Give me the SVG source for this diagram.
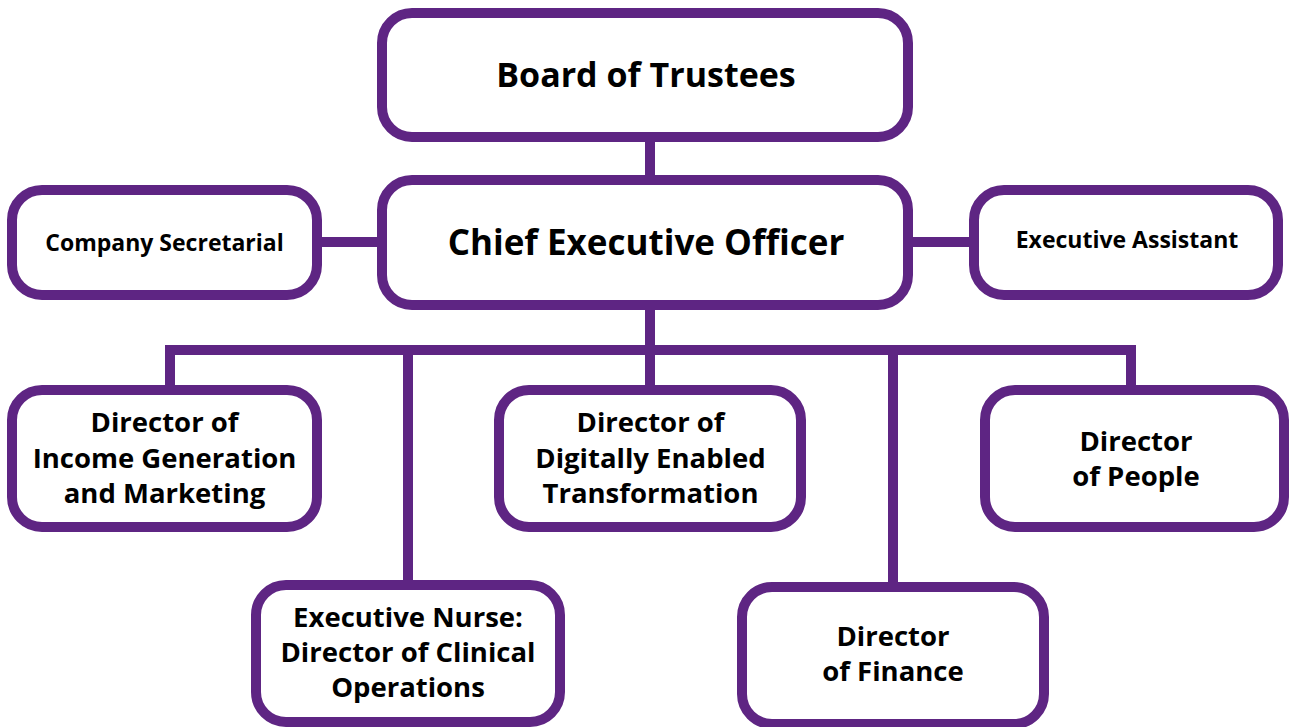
<svg xmlns="http://www.w3.org/2000/svg" width="1292" height="727" viewBox="0 0 1292 727">
<style>
.box{fill:#fff;stroke:#5e2583;stroke-width:10}
.ln{fill:none;stroke:#5e2583;stroke-width:10;stroke-linecap:butt;stroke-linejoin:miter}
text{font-family:"Open Sans","Noto Sans","Liberation Sans",sans-serif;font-weight:700;fill:#000;text-anchor:middle}
.big{font-size:34px}
.ceo{font-size:35px}
.sm{font-size:23px}
.md{font-size:27.5px}
</style>
<rect width="1292" height="727" fill="#fff"/>
<g id="connectors">
<path class="ln" d="M650 137V180"/>
<path class="ln" d="M317 242H382"/>
<path class="ln" d="M908 242H974"/>
<path class="ln" d="M650 305V390"/>
<path class="ln" d="M170 390V350H1131V390"/>
<path class="ln" d="M408 350V585"/>
<path class="ln" d="M893 350V587"/>
</g>
<g id="board"><rect class="box" x="382" y="13" width="526" height="124" rx="30"/><text class="big" x="646" y="87">Board of Trustees</text></g>
<g id="ceo"><rect class="box" x="382" y="180" width="526" height="125" rx="30"/><text class="ceo" x="646" y="255">Chief Executive Officer</text></g>
<g id="company-secretarial"><rect class="box" x="12" y="190" width="305" height="105" rx="30"/><text class="sm" x="164.5" y="251">Company Secretarial</text></g>
<g id="executive-assistant"><rect class="box" x="974" y="190" width="304" height="105" rx="30"/><text class="sm" x="1127" y="248">Executive Assistant</text></g>
<g id="dir-income"><rect class="box" x="12" y="390" width="305" height="137" rx="30"/><text class="md" x="164.5" y="432">Director of</text><text class="md" x="164.5" y="468">Income Generation</text><text class="md" x="164.5" y="503">and Marketing</text></g>
<g id="dir-digital"><rect class="box" x="499" y="390" width="302" height="137" rx="30"/><text class="md" x="650.5" y="432">Director of</text><text class="md" x="650.5" y="468">Digitally Enabled</text><text class="md" x="650.5" y="503">Transformation</text></g>
<g id="dir-people"><rect class="box" x="985" y="390" width="299" height="137" rx="30"/><text class="md" x="1136" y="451">Director</text><text class="md" x="1136" y="486">of People</text></g>
<g id="exec-nurse"><rect class="box" x="256" y="585" width="304" height="137" rx="30"/><text class="md" x="408" y="627">Executive Nurse:</text><text class="md" x="408" y="662">Director of Clinical</text><text class="md" x="408" y="697">Operations</text></g>
<g id="dir-finance"><rect class="box" x="742" y="587" width="302" height="137" rx="30"/><text class="md" x="893" y="646">Director</text><text class="md" x="893" y="681">of Finance</text></g>
</svg>
